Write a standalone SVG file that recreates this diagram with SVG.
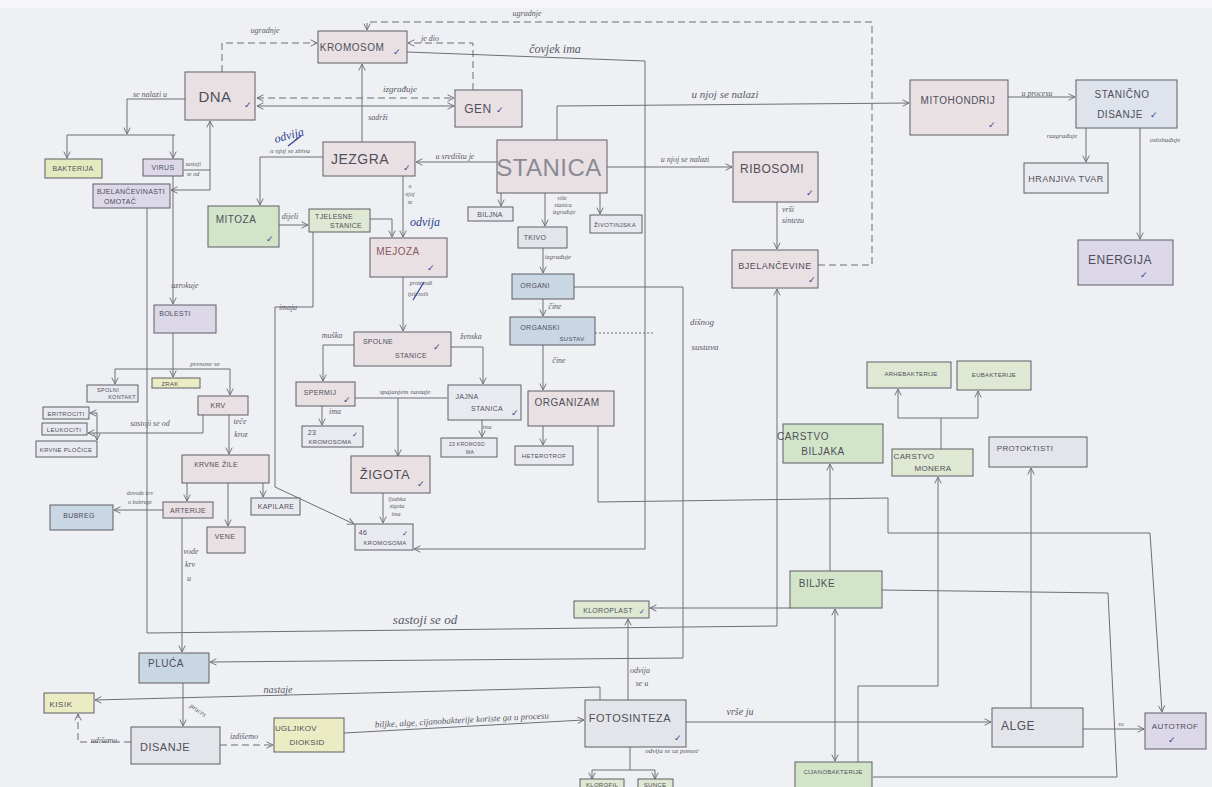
<svg xmlns="http://www.w3.org/2000/svg" width="1212" height="787" viewBox="0 0 1212 787">
<style>
.bg{fill:#eef0f4}
.n rect{stroke:#5e5e66;stroke-width:1}
.pk{fill:#e9e0e3}.gr{fill:#d3e5c9}.lg{fill:#dfe8d3}.ye{fill:#ebebc4}.bu{fill:#c9d6e3}.pu{fill:#dcd8e8}.gy{fill:#e4e5ea}.wh{fill:#e9eaef}.yg{fill:#e3eabf}.lb2{fill:#dfe4ec}
.nt{font-family:"Liberation Sans",Arial,sans-serif;font-size:10px;fill:#4f4f5a;text-anchor:middle;letter-spacing:0.5px}
.sm{font-size:7px;letter-spacing:0.3px}
.lb{font-family:"Liberation Serif",serif;font-style:italic;font-size:8px;fill:#5a5a64;text-anchor:middle}
.ck{fill:#2b3f8f;font-family:"DejaVu Sans",sans-serif;font-size:9px}
.bl{fill:#2b3f8f;font-family:"Liberation Serif",serif;font-style:italic;font-size:12px;text-anchor:middle}
.c path{fill:none;stroke:#6e6e76;stroke-width:1}
.c path.a{marker-end:url(#ar)}
.c path.d{stroke-dasharray:7 4}
</style>
<defs>
<marker id="ar" viewBox="0 0 10 10" refX="9" refY="5" markerWidth="8" markerHeight="8" orient="auto-start-reverse" markerUnits="userSpaceOnUse">
<path d="M1,1 L9,5 L1,9" fill="none" stroke="#6e6e76" stroke-width="1.2"/>
</marker>
</defs>
<rect class="bg" x="0" y="0" width="1212" height="787"/>
<rect x="0" y="0" width="1212" height="8" fill="#f7f7f9"/>

<g class="c" id="connectors">
<path class="d a" d="M222,72 V43 H317"/>
<path class="d a" d="M473,90 V43 H408"/>
<path class="d a" d="M818,265 H872 V22 H367 V30"/>
<path class="d a" d="M257,98 H454" style="marker-start:url(#ar)"/>
<path class="a" d="M454,106 H257" style="marker-start:url(#ar)"/>
<path class="a" d="M407,52 L645,61 V549 H414"/>
<path class="a" d="M362,142 V64"/>
<path class="a" d="M323,157 H260 V205"/>
<path class="a" d="M497,162 H416"/>
<path class="a" d="M557,140 V106 L909,103"/>
<path class="a" d="M607,167 H732"/>
<path class="a" d="M777,202 V249"/>
<path class="a" d="M1008,97 H1075"/>
<path class="a" d="M1086,128 V162"/>
<path class="a" d="M1140,128 V239"/>
<path class="a" d="M501,193 V206"/>
<path class="a" d="M545,193 V226"/>
<path class="a" d="M600,193 V214"/>
<path class="a" d="M543,248 V273"/>
<path class="a" d="M543,299 V316"/>
<path class="a" d="M543,345 V390"/>
<path class="a" d="M543,426 V445"/>
<path class="a" d="M598,426 V502 L888,498 V533 H1150 L1162,712"/>
<path class="a" d="M574,287 H683 V658 L210,662"/>
<path d="M595,333 H655" style="stroke-dasharray:2 2"/>
<path class="a" d="M185,99 H127 V134"/>
<path d="M67,135 H175"/>
<path class="a" d="M67,135 V158"/>
<path class="a" d="M173,135 V158"/>
<path d="M184,170 H210"/>
<path class="a" d="M210,190 V121"/>
<path class="a" d="M210,190 H171"/>
<path class="a" d="M173,176 V304"/>
<path class="a" d="M147,208 V633 L777,626 V289"/>
<path d="M173,333 V369"/>
<path d="M115,369 H230"/>
<path class="a" d="M115,369 V384"/>
<path class="a" d="M173,369 V377"/>
<path class="a" d="M230,369 V395"/>
<path class="a" d="M203,415 V433 H88"/>
<path class="a" d="M97,433 V413 H90"/>
<path class="a" d="M97,433 V440"/>
<path class="a" d="M229,415 V454"/>
<path class="a" d="M187,483 V501"/>
<path class="a" d="M228,483 V526"/>
<path class="a" d="M263,483 V497"/>
<path class="a" d="M163,510 H114"/>
<path class="a" d="M182,518 V652"/>
<path class="a" d="M183,683 V726"/>
<path class="d a" d="M131,742 H78 V714"/>
<path class="d a" d="M220,745 H273"/>
<path class="a" d="M344,733 L584,720"/>
<path class="a" d="M600,700 V687 L95,700"/>
<path class="a" d="M628,700 V619"/>
<path class="a" d="M790,608 H650"/>
<path d="M630,747 V770 M592,770 H655"/>
<path class="a" d="M592,770 V779"/>
<path class="a" d="M655,770 V779"/>
<path class="a" d="M686,722 H991"/>
<path class="a" d="M1083,729 H1144"/>
<path class="a" d="M1031,708 V468"/>
<path class="a" d="M830,571 V464"/>
<path class="a" d="M835,609 V761" style="marker-start:url(#ar)"/>
<path class="a" d="M858,762 V686 H938 V477"/>
<path d="M941,449 V418 M898,418 H978"/>
<path class="a" d="M898,418 V389"/>
<path class="a" d="M978,418 V391"/>
<path d="M882,590 L1108,593 L1117,777 H873"/>
<path class="a" d="M370,219 H392 V237"/>
<path class="a" d="M313,232 V307 H275 V487 L354,524"/>
<path class="a" d="M403,176 V237"/>
<path class="a" d="M279,225 H308"/>
<path class="a" d="M403,277 V331"/>
<path class="a" d="M354,345 H323 V381"/>
<path class="a" d="M451,347 H483 V384"/>
<path d="M355,398 H447"/>
<path class="a" d="M398,398 V456"/>
<path class="a" d="M322,406 V425"/>
<path class="a" d="M482,420 V437"/>
<path class="a" d="M383,493 V523"/>
</g>

<g id="labels">
<text class="lb" x="265" y="33">ugradnje</text>
<text class="lb" x="430" y="41">je dio</text>
<text class="lb" x="527" y="16">ugradnje</text>
<text class="lb" x="400" y="92" style="font-size:9px">izgrađuje</text>
<text class="lb" x="555" y="53" style="font-size:12px">čovjek ima</text>
<text class="lb" x="378" y="120">sadrži</text>
<text class="lb" x="290" y="153" style="font-size:7px">u njoj se zbiva</text>
<text class="bl" x="290" y="139" transform="rotate(-15 290 139)">odvija</text>
<text class="lb" x="455" y="159">u središtu je</text>
<text class="lb" x="725" y="98" style="font-size:11px">u njoj se nalazi</text>
<text class="lb" x="685" y="162">u njoj se nalazi</text>
<text class="lb" x="788" y="212">vrši</text>
<text class="lb" x="793" y="223">sintezu</text>
<text class="lb" x="1037" y="96">u procesu</text>
<text class="lb" x="1062" y="138" style="font-size:7px">razgrađuje</text>
<text class="lb" x="1165" y="142" style="font-size:7px">oslobađuje</text>
<text class="lb" x="562" y="200" style="font-size:6px">više</text>
<text class="lb" x="563" y="207" style="font-size:6px">stanica</text>
<text class="lb" x="564" y="214" style="font-size:6px">izgrađuje</text>
<text class="lb" x="558" y="259" style="font-size:7px">izgrađuje</text>
<text class="lb" x="555" y="309">čine</text>
<text class="lb" x="559" y="363">čine</text>
<text class="lb" x="702" y="325" style="font-size:9px">dišnog</text>
<text class="lb" x="705" y="350" style="font-size:9px">sustava</text>
<text class="lb" x="150" y="97">se nalazi u</text>
<text class="lb" x="193" y="166" style="font-size:6px">sastoji</text>
<text class="lb" x="193" y="176" style="font-size:6px">se od</text>
<text class="lb" x="185" y="288">uzrokuje</text>
<text class="lb" x="425" y="624" style="font-size:13px">sastoji se od</text>
<text class="lb" x="205" y="366" style="font-size:7px">prenose se</text>
<text class="lb" x="150" y="426">sastoji se od</text>
<text class="lb" x="240" y="424">teče</text>
<text class="lb" x="241" y="437">kroz</text>
<text class="lb" x="140" y="495" style="font-size:6px">dovode krv</text>
<text class="lb" x="140" y="504" style="font-size:6px">u bubrege</text>
<text class="lb" x="191" y="554">vode</text>
<text class="lb" x="190" y="567">krv</text>
<text class="lb" x="189" y="581">u</text>
<text class="lb" x="197" y="712" style="font-size:7px" transform="rotate(35 197 712)">proces</text>
<text class="lb" x="104" y="743">udišemo</text>
<text class="lb" x="244" y="739">izdišemo</text>
<text class="lb" x="462" y="723" style="font-size:9px" transform="rotate(-3 462 723)">biljke, alge, cijanobakterije koriste ga u procesu</text>
<text class="lb" x="278" y="693" style="font-size:10px">nastaje</text>
<text class="lb" x="640" y="673">odvija</text>
<text class="lb" x="642" y="686">se u</text>
<text class="lb" x="672" y="753" style="font-size:7px">odvija se uz pomoć</text>
<text class="lb" x="740" y="715" style="font-size:10px">vrše ju</text>
<text class="lb" x="1121" y="726" style="font-size:6px">su</text>
<text class="lb" x="288" y="310">imaju</text>
<text class="lb" x="410" y="188" style="font-size:6px">u</text>
<text class="lb" x="410" y="196" style="font-size:6px">njoj</text>
<text class="lb" x="410" y="204" style="font-size:6px">se</text>
<text class="bl" x="425" y="226">odvija</text>
<text class="lb" x="290" y="219">dijeli</text>
<text class="lb" x="421" y="285" style="font-size:6px">proizvodi</text>
<text class="lb" x="418" y="296" style="font-size:6px">tjelesnih</text>
<path d="M413,300 L424,282" stroke="#2b3f8f" stroke-width="1.2" fill="none"/>
<path d="M288,146 L301,136" stroke="#2b3f8f" stroke-width="1.2" fill="none"/>
<text class="lb" x="332" y="338">muška</text>
<text class="lb" x="471" y="339">ženska</text>
<text class="lb" x="405" y="394" style="font-size:7px">spajanjem nastaje</text>
<text class="lb" x="335" y="414">ima</text>
<text class="lb" x="487" y="429" style="font-size:6px">ima</text>
<text class="lb" x="397" y="501" style="font-size:6px">ljudska</text>
<text class="lb" x="397" y="508" style="font-size:6px">zigota</text>
<text class="lb" x="396" y="516" style="font-size:6px">ima</text>
<text class="lb" x="599" y="149" style="font-size:7px">1.</text>
</g>

<g id="n-kromosom" class="n"><rect class="pk" x="318" y="31" width="89" height="32"/><text class="nt" x="352" y="51">KROMOSOM</text><text class="ck" x="393" y="55">✓</text></g>
<g id="n-dna" class="n"><rect class="pk" x="185" y="72" width="70" height="48"/><text class="nt" x="215" y="102" style="font-size:15px">DNA</text><text class="ck" x="244" y="108">✓</text></g>
<g id="n-gen" class="n"><rect class="pk" x="455" y="90" width="67" height="37"/><text class="nt" x="478" y="113" style="font-size:12px">GEN</text><text class="ck" x="496" y="113">✓</text></g>
<g id="n-jezgra" class="n"><rect class="pk" x="323" y="142" width="92" height="34"/><text class="nt" x="360" y="164" style="font-size:14px">JEZGRA</text><text class="ck" x="403" y="171">✓</text></g>
<g id="n-stanica" class="n"><rect class="pk" x="497" y="140" width="110" height="53"/><text class="nt" x="549" y="176" style="font-size:24px;fill:#8a8a93">STANICA</text></g>
<g id="n-mitohondrij" class="n"><rect class="pk" x="910" y="80" width="98" height="55"/><text class="nt" x="958" y="104">MITOHONDRIJ</text><text class="ck" x="988" y="128">✓</text></g>
<g id="n-stanicno-disanje" class="n"><rect class="lb2" x="1076" y="80" width="101" height="48"/><text class="nt" x="1122" y="98">STANIČNO</text><text class="nt" x="1120" y="118">DISANJE</text><text class="ck" x="1150" y="118">✓</text></g>
<g id="n-hranjiva-tvar" class="n"><rect class="wh" x="1024" y="163" width="84" height="30"/><text class="nt" x="1066" y="182" style="font-size:9px">HRANJIVA TVAR</text></g>
<g id="n-energija" class="n"><rect class="pu" x="1078" y="240" width="95" height="45"/><text class="nt" x="1120" y="264" style="font-size:12px">ENERGIJA</text><text class="ck" x="1140" y="278">✓</text></g>
<g id="n-ribosomi" class="n"><rect class="pk" x="733" y="152" width="85" height="50"/><text class="nt" x="772" y="173" style="font-size:12px">RIBOSOMI</text><text class="ck" x="806" y="196">✓</text></g>
<g id="n-bjelancevine" class="n"><rect class="pk" x="732" y="250" width="86" height="38"/><text class="nt" x="775" y="269" style="font-size:9px">BJELANČEVINE</text><text class="ck" x="808" y="283">✓</text></g>
<g id="n-bakterija" class="n"><rect class="yg" x="45" y="159" width="57" height="19"/><text class="nt sm" x="73" y="171">BAKTERIJA</text></g>
<g id="n-virus" class="n"><rect class="pu" x="143" y="159" width="40" height="17"/><text class="nt sm" x="163" y="170">VIRUS</text></g>
<g id="n-omotac" class="n"><rect class="pu" x="93" y="184" width="77" height="24"/><text class="nt sm" x="131" y="194">BJELANČEVINASTI</text><text class="nt sm" x="120" y="204">OMOTAČ</text></g>
<g id="n-mitoza" class="n"><rect class="gr" x="208" y="206" width="71" height="41"/><text class="nt" x="236" y="223">MITOZA</text><text class="ck" x="266" y="242">✓</text></g>
<g id="n-tjelesne" class="n"><rect class="lg" x="309" y="209" width="61" height="23"/><text class="nt sm" x="334" y="219">TJELESNE</text><text class="nt sm" x="346" y="228">STANICE</text></g>
<g id="n-mejoza" class="n"><rect class="pk" x="370" y="238" width="77" height="39"/><text class="nt" x="398" y="255" style="fill:#8a5a62">MEJOZA</text><text class="ck" x="427" y="271">✓</text></g>
<g id="n-biljna" class="n"><rect class="wh" x="468" y="207" width="45" height="14"/><text class="nt sm" x="490" y="217">BILJNA</text></g>
<g id="n-tkivo" class="n"><rect class="gy" x="518" y="227" width="49" height="21"/><text class="nt sm" x="535" y="240">TKIVO</text></g>
<g id="n-zivotinjska" class="n"><rect class="wh" x="590" y="215" width="52" height="18"/><text class="nt sm" x="615" y="227" style="font-size:6px">ŽIVOTINJSKA</text></g>
<g id="n-organi" class="n"><rect class="bu" x="512" y="274" width="62" height="25"/><text class="nt sm" x="535" y="288">ORGANI</text></g>
<g id="n-organski-sustav" class="n"><rect class="bu" x="510" y="317" width="85" height="28"/><text class="nt sm" x="540" y="330">ORGANSKI</text><text class="nt sm" x="572" y="341" style="font-size:6px">SUSTAV</text></g>
<g id="n-organizam" class="n"><rect class="pk" x="528" y="391" width="86" height="35"/><text class="nt" x="567" y="406">ORGANIZAM</text></g>
<g id="n-heterotrof" class="n"><rect class="wh" x="515" y="446" width="58" height="19"/><text class="nt sm" x="544" y="458" style="font-size:6px">HETEROTROF</text></g>
<g id="n-bolesti" class="n"><rect class="pu" x="154" y="305" width="62" height="28"/><text class="nt sm" x="175" y="316">BOLESTI</text></g>
<g id="n-spolni-kontakt" class="n"><rect class="wh" x="87" y="385" width="51" height="17"/><text class="nt sm" x="108" y="392" style="font-size:5.5px">SPOLNI</text><text class="nt sm" x="122" y="399" style="font-size:5.5px">KONTAKT</text></g>
<g id="n-zrak" class="n"><rect class="ye" x="152" y="378" width="48" height="10"/><text class="nt sm" x="170" y="386" style="font-size:6px">ZRAK</text></g>
<g id="n-krv" class="n"><rect class="pk" x="198" y="396" width="50" height="19"/><text class="nt sm" x="218" y="408">KRV</text></g>
<g id="n-eritrociti" class="n"><rect class="wh" x="43" y="407" width="46" height="12"/><text class="nt sm" x="66" y="416" style="font-size:6px">ERITROCITI</text></g>
<g id="n-leukociti" class="n"><rect class="wh" x="42" y="423" width="45" height="12"/><text class="nt sm" x="64" y="432" style="font-size:6px">LEUKOCITI</text></g>
<g id="n-krvne-plocice" class="n"><rect class="wh" x="36" y="441" width="61" height="16"/><text class="nt sm" x="66" y="452" style="font-size:6px">KRVNE PLOČICE</text></g>
<g id="n-krvne-zile" class="n"><rect class="pk" x="182" y="455" width="87" height="28"/><text class="nt sm" x="216" y="467">KRVNE ŽILE</text></g>
<g id="n-arterije" class="n"><rect class="pk" x="163" y="502" width="50" height="16"/><text class="nt sm" x="188" y="513">ARTERIJE</text></g>
<g id="n-kapilare" class="n"><rect class="wh" x="251" y="498" width="49" height="17"/><text class="nt sm" x="276" y="509">KAPILARE</text></g>
<g id="n-vene" class="n"><rect class="pk" x="207" y="527" width="38" height="26"/><text class="nt sm" x="225" y="539">VENE</text></g>
<g id="n-bubreg" class="n"><rect class="bu" x="50" y="505" width="63" height="25"/><text class="nt sm" x="79" y="518">BUBREG</text></g>
<g id="n-spolne-stanice" class="n"><rect class="pk" x="354" y="332" width="97" height="34"/><text class="nt sm" x="378" y="344">SPOLNE</text><text class="nt sm" x="411" y="358">STANICE</text><text class="ck" x="433" y="350">✓</text></g>
<g id="n-spermij" class="n"><rect class="pk" x="296" y="382" width="59" height="24"/><text class="nt sm" x="320" y="395">SPERMIJ</text><text class="ck" x="343" y="403">✓</text></g>
<g id="n-jajna-stanica" class="n"><rect class="wh" x="448" y="385" width="73" height="35"/><text class="nt sm" x="467" y="399">JAJNA</text><text class="nt sm" x="487" y="411">STANICA</text><text class="ck" x="511" y="416">✓</text></g>
<g id="n-23-kromosoma-a" class="n"><rect class="wh" x="302" y="426" width="61" height="21"/><text class="nt sm" x="312" y="435">23</text><text class="nt sm" x="330" y="444" style="font-size:6px">KROMOSOMA</text><text class="ck" x="352" y="437" style="font-size:7px">✓</text></g>
<g id="n-23-kromosoma-b" class="n"><rect class="wh" x="441" y="438" width="56" height="19"/><text class="nt sm" x="467" y="446" style="font-size:5px">23 KROMOSO</text><text class="nt sm" x="470" y="454" style="font-size:5px">MA</text></g>
<g id="n-zigota" class="n"><rect class="pk" x="351" y="456" width="79" height="37"/><text class="nt" x="385" y="479" style="font-size:13px">ŽIGOTA</text><text class="ck" x="417" y="487">✓</text></g>
<g id="n-46-kromosoma" class="n"><rect class="wh" x="355" y="524" width="58" height="26"/><text class="nt sm" x="363" y="535">46</text><text class="nt sm" x="385" y="545" style="font-size:6px">KROMOSOMA</text><text class="ck" x="402" y="536" style="font-size:7px">✓</text></g>
<g id="n-pluca" class="n"><rect class="bu" x="139" y="653" width="70" height="30"/><text class="nt" x="166" y="667">PLUĆA</text></g>
<g id="n-kisik" class="n"><rect class="ye" x="44" y="693" width="50" height="20"/><text class="nt" x="61" y="707" style="font-size:8px">KISIK</text></g>
<g id="n-disanje" class="n"><rect class="gy" x="131" y="727" width="89" height="37"/><text class="nt" x="165" y="751" style="font-size:11px">DISANJE</text></g>
<g id="n-ugljikov-dioksid" class="n"><rect class="ye" x="274" y="718" width="70" height="34"/><text class="nt sm" x="296" y="731" style="font-size:8px">UGLJIKOV</text><text class="nt sm" x="307" y="745" style="font-size:8px">DIOKSID</text></g>
<g id="n-fotosinteza" class="n"><rect class="gy" x="585" y="700" width="101" height="47"/><text class="nt" x="630" y="722" style="font-size:11px">FOTOSINTEZA</text><text class="ck" x="674" y="741">✓</text></g>
<g id="n-kloroplast" class="n"><rect class="lg" x="574" y="601" width="75" height="17"/><text class="nt sm" x="608" y="613">KLOROPLAST</text><text class="ck" x="639" y="614" style="font-size:7px">✓</text></g>
<g id="n-klorofil" class="n"><rect class="lg" x="580" y="779" width="44" height="12"/><text class="nt sm" x="602" y="787" style="font-size:6px">KLOROFIL</text></g>
<g id="n-sunce" class="n"><rect class="lg" x="638" y="779" width="35" height="12"/><text class="nt sm" x="655" y="787" style="font-size:6px">SUNCE</text></g>
<g id="n-alge" class="n"><rect class="gy" x="992" y="708" width="91" height="39"/><text class="nt" x="1018" y="730" style="font-size:12px">ALGE</text></g>
<g id="n-autotrof" class="n"><rect class="pu" x="1145" y="713" width="61" height="36"/><text class="nt sm" x="1175" y="729" style="font-size:8px">AUTOTROF</text><text class="ck" x="1168" y="743">✓</text></g>
<g id="n-biljke" class="n"><rect class="gr" x="790" y="571" width="92" height="37"/><text class="nt" x="817" y="587">BILJKE</text></g>
<g id="n-cijanobakterije" class="n"><rect class="gr" x="795" y="762" width="77" height="28"/><text class="nt sm" x="833" y="774" style="font-size:6px">CIJANOBAKTERIJE</text></g>
<g id="n-carstvo-biljaka" class="n"><rect class="gr" x="783" y="424" width="100" height="39"/><text class="nt" x="803" y="440">CARSTVO</text><text class="nt" x="823" y="455">BILJAKA</text></g>
<g id="n-carstvo-monera" class="n"><rect class="lg" x="892" y="449" width="81" height="27"/><text class="nt sm" x="914" y="459" style="font-size:8px">CARSTVO</text><text class="nt sm" x="933" y="471" style="font-size:8px">MONERA</text></g>
<g id="n-protoktisti" class="n"><rect class="gy" x="989" y="437" width="98" height="30"/><text class="nt sm" x="1025" y="451" style="font-size:8px">PROTOKTISTI</text></g>
<g id="n-arhebakterije" class="n"><rect class="lg" x="867" y="362" width="84" height="26"/><text class="nt sm" x="911" y="376" style="font-size:6px">ARHEBAKTERIJE</text></g>
<g id="n-eubakterije" class="n"><rect class="lg" x="957" y="361" width="74" height="29"/><text class="nt sm" x="994" y="377" style="font-size:6px">EUBAKTERIJE</text></g>
</svg>
